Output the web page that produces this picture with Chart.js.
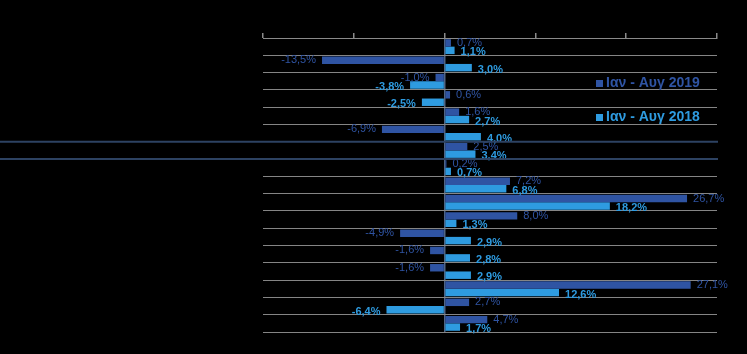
<!DOCTYPE html>
<html>
<head>
<meta charset="utf-8">
<script src="https://cdn.jsdelivr.net/npm/chart.js@4"></script>
<style>
  html, body { margin: 0; padding: 0; background: #000; }
  #wrap { width: 747px; height: 354px; }
</style>
</head>
<body>
<div id="wrap"><canvas id="chart" width="747" height="354"></canvas></div>
<script>
const categories = ['1', '2', '3', '4', '5', '6', '7', '8', '9', '10', '11', '12', '13', '14', '15', '16', '17'];
const values2019 = [0.7, -13.5, -1.0, 0.6, 1.6, -6.9, 2.5, 0.2, 7.2, 26.7, 8.0, -4.9, -1.6, -1.6, 27.1, 2.7, 4.7];
const values2018 = [1.1, 3.0, -3.8, -2.5, 2.7, 4.0, 3.4, 0.7, 6.8, 18.2, 1.3, 2.9, 2.8, 2.9, 12.6, -6.4, 1.7];
const seriesNames = ['Ιαν - Αυγ 2019', 'Ιαν - Αυγ 2018'];
const highlightIndex = 6;

const dark = '#2f54a3';
const light = '#2e9be0';
const FONT = '"Liberation Sans", Arial, sans-serif';

const fmt = v => v.toFixed(1).replace('.', ',') + '%';

// value labels at the bar ends
const valueLabels = {
    id: 'valueLabels',
    afterDatasetsDraw(chart) {
        const ctx = chart.ctx;
        ctx.save();
        ctx.textBaseline = 'middle';
        chart.data.datasets.forEach((ds, i) => {
            const meta = chart.getDatasetMeta(i);
            ctx.font = (i === 1 ? 'bold ' : '') + '11px ' + FONT;
            ctx.fillStyle = ds.backgroundColor;
            meta.data.forEach((bar, j) => {
                const v = ds.data[j];
                const y = bar.y + (i === 1 ? 2 : 0);
                if (v >= 0) {
                    ctx.textAlign = 'left';
                    ctx.fillText(fmt(v), bar.x + 6, y);
                } else {
                    ctx.textAlign = 'right';
                    ctx.fillText(fmt(v), bar.x - 6, y);
                }
            });
        });
        ctx.restore();
    }
};

// legend inside the plot + highlight lines
const extras = {
    id: 'extras',
    afterDraw(chart) {
        const ctx = chart.ctx;
        const area = chart.chartArea;
        const y = chart.scales.y;
        const half = (y.getPixelForValue(1) - y.getPixelForValue(0)) / 2;
        const yc = y.getPixelForValue(highlightIndex);
        ctx.save();
        ctx.strokeStyle = '#2d4262';
        ctx.lineWidth = 2;
        [yc - half, yc + half].forEach(py => {
            ctx.beginPath();
            ctx.moveTo(0, py);
            ctx.lineTo(area.right + 1, py);
            ctx.stroke();
        });

        ctx.font = 'bold 14px ' + FONT;
        ctx.textBaseline = 'middle';
        ctx.textAlign = 'left';
        const lx = area.left + 333;
        [[83, dark], [117, light]].forEach(([ly, c], i) => {
            ctx.fillStyle = c;
            ctx.fillRect(lx, ly - 3, 7, 7);
            ctx.fillText(seriesNames[i], lx + 10, ly);
        });
        ctx.restore();
    }
};

new Chart(document.getElementById('chart'), {
    type: 'bar',
    data: {
        labels: categories,
        datasets: [
            { label: seriesNames[0], data: values2019, backgroundColor: dark },
            { label: seriesNames[1], data: values2018, backgroundColor: light }
        ]
    },
    options: {
        indexAxis: 'y',
        responsive: false,
        animation: false,
        layout: { padding: { left: 263, right: 30, top: 33, bottom: 22 } },
        datasets: {
            bar: { categoryPercentage: 0.86, barPercentage: 1.0 }
        },
        plugins: {
            legend: { display: false },
            tooltip: { enabled: false }
        },
        scales: {
            x: {
                position: 'top',
                min: -20,
                max: 30,
                ticks: { stepSize: 10, display: false },
                grid: {
                    color: c => c.tick && c.tick.value === 0 ? '#4f6585' : 'transparent',
                    tickColor: '#8a8a8a',
                    tickLength: 5,
                    lineWidth: 1.5
                },
                border: { display: true, color: '#8a8a8a' }
            },
            y: {
                ticks: { display: false },
                grid: { color: '#858585', drawTicks: false },
                border: { display: false }
            }
        }
    },
    plugins: [valueLabels, extras]
});
</script>
</body>
</html>
